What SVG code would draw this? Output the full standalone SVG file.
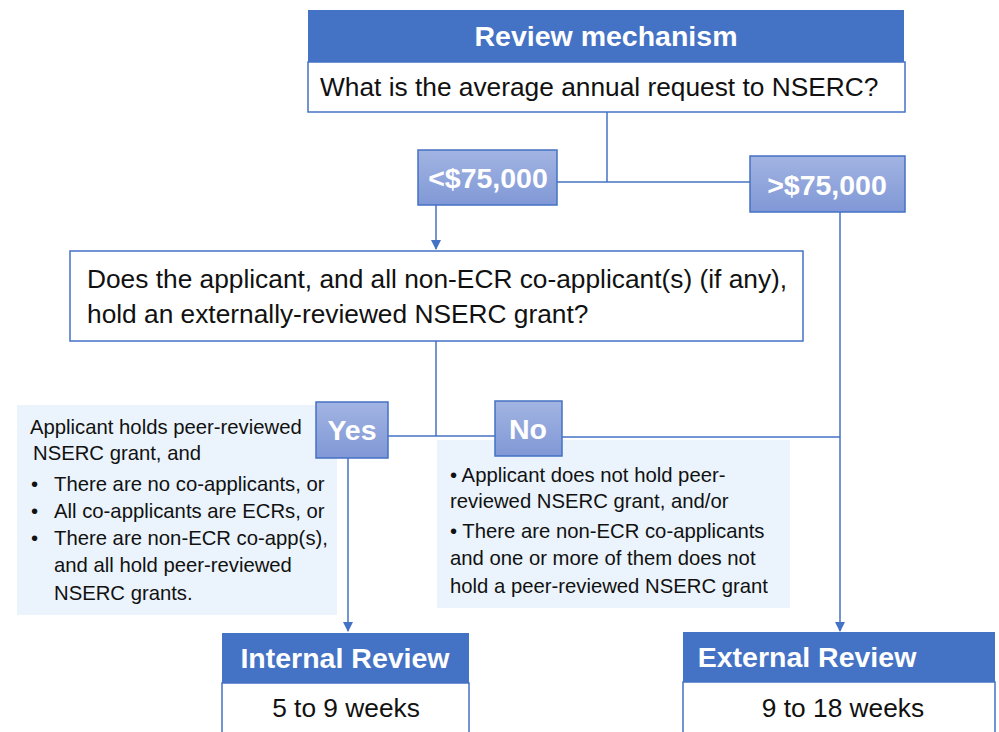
<svg xmlns="http://www.w3.org/2000/svg" width="999" height="732" viewBox="0 0 999 732">
<defs>
  <linearGradient id="gb" x1="0" y1="0" x2="0" y2="1">
    <stop offset="0" stop-color="#A2B4E2"/>
    <stop offset="1" stop-color="#8098D6"/>
  </linearGradient>
  <marker id="arr" viewBox="0 0 10 10" refX="9" refY="5" markerWidth="10" markerHeight="10" markerUnits="userSpaceOnUse" orient="auto">
    <path d="M0,0 L10,5 L0,10 z" fill="#4472C4"/>
  </marker>
</defs>
<style>
  text { font-family: "Liberation Sans", Arial, sans-serif; }
  .hdr { fill: #4472C4; }
  .box { fill: #FFFFFF; stroke: #4472C4; stroke-width: 1.5; }
  .dec { fill: url(#gb); stroke: #4472C4; stroke-width: 1.5; }
  .note { fill: #EBF4FC; }
  .ht { fill: #FFFFFF; font-weight: bold; font-size: 28.5px; text-anchor: middle; }
  .bt { fill: #111111; font-size: 26.3px; }
  .st { fill: #111111; font-size: 20.3px; }
  .ln { fill: none; stroke: #4472C4; stroke-width: 1.5; }
</style>
<rect width="999" height="732" fill="#FFFFFF"/>

<g id="note-yes">
  <rect class="note" x="17" y="405" width="320" height="210"/>
  <text class="st" x="30" y="434">Applicant holds peer-reviewed</text>
  <text class="st" x="33" y="460">NSERC grant, and</text>
  <text class="st" x="31" y="491">•</text><text class="st" x="54" y="491">There are no co-applicants, or</text>
  <text class="st" x="31" y="518">•</text><text class="st" x="54" y="518">All co-applicants are ECRs, or</text>
  <text class="st" x="31" y="545">•</text><text class="st" x="54" y="545">There are non-ECR co-app(s),</text>
  <text class="st" x="54" y="572">and all hold peer-reviewed</text>
  <text class="st" x="54" y="600">NSERC grants.</text>
</g>

<g id="note-no">
  <rect class="note" x="437" y="440" width="353" height="168"/>
  <text class="st" x="450" y="482">• Applicant does not hold peer-</text>
  <text class="st" x="450" y="508">reviewed NSERC grant, and/or</text>
  <text class="st" x="450" y="538">• There are non-ECR co-applicants</text>
  <text class="st" x="450" y="565">and one or more of them does not</text>
  <text class="st" x="450" y="593">hold a peer-reviewed NSERC grant</text>
</g>

<g id="connectors">
  <path class="ln" d="M607,112 V182"/>
  <path class="ln" d="M557,182 H751"/>
  <path class="ln" d="M436,205 V249" marker-end="url(#arr)"/>
  <path class="ln" d="M436,341 V436"/>
  <path class="ln" d="M388,436 H495"/>
  <path class="ln" d="M562,437 H840"/>
  <path class="ln" d="M840,212 V631" marker-end="url(#arr)"/>
  <path class="ln" d="M348,458 V631" marker-end="url(#arr)"/>
</g>

<g id="review-mechanism">
  <rect class="hdr" x="308" y="10" width="596" height="52"/>
  <text class="ht" x="606" y="46">Review mechanism</text>
  <rect class="box" x="308" y="62" width="597" height="50"/>
  <text class="bt" x="320" y="96">What is the average annual request to NSERC?</text>
</g>

<g id="under-75k">
  <rect class="dec" x="418" y="150" width="139" height="55"/>
  <text class="ht" x="488" y="188">&lt;$75,000</text>
</g>

<g id="over-75k">
  <rect class="dec" x="750" y="156" width="155" height="56"/>
  <text class="ht" x="827" y="195">&gt;$75,000</text>
</g>

<g id="grant-question">
  <rect class="box" x="70" y="251" width="733" height="90"/>
  <text class="bt" x="87" y="288">Does the applicant, and all non-ECR co-applicant(s) (if any),</text>
  <text class="bt" x="87" y="323">hold an externally-reviewed NSERC grant?</text>
</g>

<g id="yes">
  <rect class="dec" x="316" y="402" width="72" height="56"/>
  <text class="ht" x="352" y="440">Yes</text>
</g>

<g id="no">
  <rect class="dec" x="495" y="401" width="67" height="55"/>
  <text class="ht" x="528" y="439">No</text>
</g>

<g id="internal-review">
  <rect class="hdr" x="222" y="633" width="247" height="50"/>
  <text class="ht" x="345" y="668">Internal Review</text>
  <rect class="box" x="222" y="683" width="247" height="55"/>
  <text class="bt" x="346" y="717" text-anchor="middle">5 to 9 weeks</text>
</g>

<g id="external-review">
  <rect class="hdr" x="683" y="632" width="312" height="50"/>
  <text class="ht" x="807" y="667">External Review</text>
  <rect class="box" x="683" y="682" width="312" height="56"/>
  <text class="bt" x="843" y="717" text-anchor="middle">9 to 18 weeks</text>
</g>
</svg>
